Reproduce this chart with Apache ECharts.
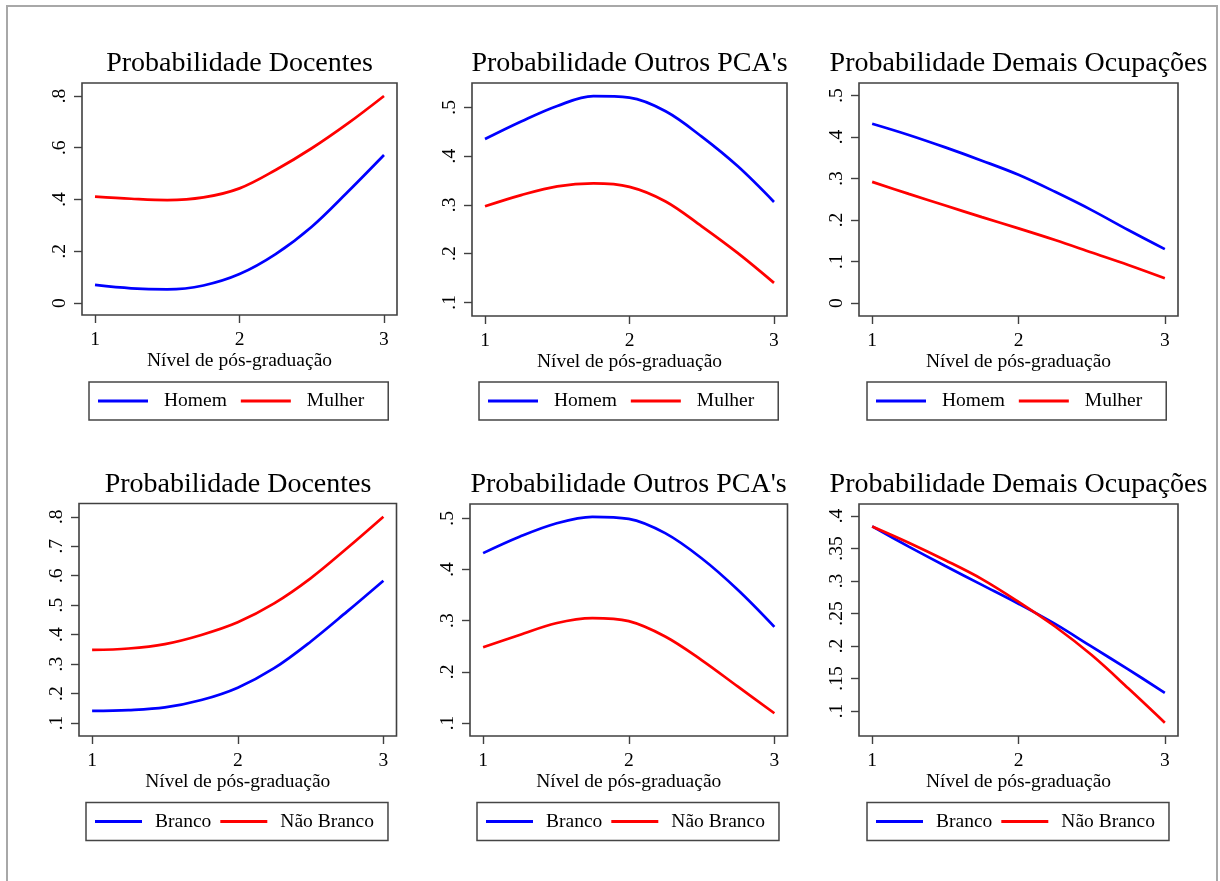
<!DOCTYPE html>
<html>
<head>
<meta charset="utf-8">
<script src="https://cdn.jsdelivr.net/npm/echarts@6/dist/echarts.min.js"></script>
<style>
html,body{margin:0;padding:0;background:#fff;}
#chart{width:1220px;height:881px;}
</style>
</head>
<body>
<div id="chart"></div>
<script>
// ---- data ----
const xValues = [1, 1.25, 1.5, 1.75, 2, 2.25, 2.5, 2.75, 3];
const xTicks = [1, 2, 3];
const xAxisName = 'Nível de pós-graduação';

const titles = ['Probabilidade Docentes', "Probabilidade Outros PCA's", 'Probabilidade Demais Ocupações',
                'Probabilidade Docentes', "Probabilidade Outros PCA's", 'Probabilidade Demais Ocupações'];
const sexNames = ['Homem', 'Mulher'];
const raceNames = ['Branco', 'Não Branco'];

const docHomem   = [0.070, 0.057, 0.053, 0.068, 0.112, 0.189, 0.295, 0.430, 0.572];
const docMulher  = [0.411, 0.403, 0.398, 0.408, 0.443, 0.514, 0.598, 0.694, 0.800];
const pcaHomem   = [0.435, 0.471, 0.503, 0.523, 0.520, 0.492, 0.440, 0.379, 0.306];
const pcaMulher  = [0.297, 0.320, 0.338, 0.344, 0.337, 0.307, 0.256, 0.201, 0.140];
const demHomem   = [0.432, 0.405, 0.375, 0.343, 0.309, 0.268, 0.224, 0.176, 0.130];
const demMulher  = [0.292, 0.263, 0.235, 0.207, 0.180, 0.152, 0.122, 0.092, 0.060];
const docBranco    = [0.141, 0.144, 0.153, 0.178, 0.220, 0.286, 0.376, 0.478, 0.583];
const docNaoBranco = [0.348, 0.353, 0.368, 0.399, 0.442, 0.506, 0.591, 0.693, 0.800];
const pcaBranco    = [0.432, 0.464, 0.490, 0.503, 0.499, 0.471, 0.422, 0.360, 0.288];
const pcaNaoBranco = [0.248, 0.272, 0.295, 0.305, 0.299, 0.269, 0.223, 0.171, 0.119];
const demBranco    = [0.384, 0.353, 0.323, 0.294, 0.265, 0.234, 0.199, 0.164, 0.128];
const demNaoBranco = [0.384, 0.359, 0.332, 0.303, 0.268, 0.230, 0.186, 0.135, 0.082];

const yTicks1 = [0, 0.2, 0.4, 0.6, 0.8];
const yTicks2 = [0.1, 0.2, 0.3, 0.4, 0.5];
const yTicks3 = [0, 0.1, 0.2, 0.3, 0.4, 0.5];
const yTicks4 = [0.1, 0.2, 0.3, 0.4, 0.5, 0.6, 0.7, 0.8];
const yTicks5 = [0.1, 0.2, 0.3, 0.4, 0.5];
const yTicks6 = [0.1, 0.15, 0.2, 0.25, 0.3, 0.35, 0.4];

// ---- layout (pixels) ----
const panels = [
  {names: sexNames,  data: [docHomem, docMulher],     yTicks: yTicks1, ymin: -0.046, ymax: 0.850,
   grid: {left: 82, top: 83, width: 315, height: 232}, titleX: 239.5, titleY: 64, legend: {left: 89, top: 382}},
  {names: sexNames,  data: [pcaHomem, pcaMulher],     yTicks: yTicks2, ymin: 0.072, ymax: 0.550,
   grid: {left: 472, top: 83, width: 315, height: 233}, titleX: 629.5, titleY: 64, legend: {left: 479, top: 382}},
  {names: sexNames,  data: [demHomem, demMulher],     yTicks: yTicks3, ymin: -0.031, ymax: 0.530,
   grid: {left: 859, top: 83, width: 319, height: 233}, titleX: 1018.5, titleY: 64, legend: {left: 867, top: 382}},
  {names: raceNames, data: [docBranco, docNaoBranco], yTicks: yTicks4, ymin: 0.056, ymax: 0.845,
   grid: {left: 79, top: 503.5, width: 317.5, height: 232.5}, titleX: 238, titleY: 484.5, legend: {left: 86, top: 802.5}},
  {names: raceNames, data: [pcaBranco, pcaNaoBranco], yTicks: yTicks5, ymin: 0.0746, ymax: 0.528,
   grid: {left: 470, top: 504, width: 317.5, height: 232}, titleX: 628.5, titleY: 484.5, legend: {left: 477, top: 802.5}},
  {names: raceNames, data: [demBranco, demNaoBranco], yTicks: yTicks6, ymin: 0.0615, ymax: 0.4185,
   grid: {left: 859, top: 504, width: 319, height: 232}, titleX: 1018.5, titleY: 484.5, legend: {left: 867, top: 802.5}}
];

const FONT = 'Liberation Serif';
const TXT = '#000000';
const AX = '#404040';
const colors = ['#0000FF', '#FF0000'];

function fmt(v) {
  if (Math.abs(v) < 1e-9) return '0';
  return String(+v.toFixed(2)).replace(/^0/, '');
}

const grids = [], xAxes = [], yAxes = [], series = [], legends = [], graphics = [];

graphics.push({type: 'rect', shape: {x: 7, y: 6, width: 1210, height: 900},
  style: {fill: 'none', stroke: '#a8a8a8', lineWidth: 2}, silent: true, z: -1});

panels.forEach((p, i) => {
  grids.push(Object.assign({show: true, borderColor: AX, borderWidth: 1.6, backgroundColor: '#fff', containLabel: false}, p.grid));
  xAxes.push({
    type: 'value', gridIndex: i, min: 0.91, max: 3.09, position: 'bottom',
    axisLine: {show: false, onZero: false},
    splitLine: {show: false},
    axisTick: {show: true, inside: false, customValues: xTicks, length: 8, lineStyle: {color: AX, width: 1.4}},
    axisLabel: {customValues: xTicks, margin: 15, color: TXT, fontFamily: FONT, fontSize: 19.5},
    name: xAxisName, nameLocation: 'middle', nameGap: 36,
    nameTextStyle: {color: TXT, fontFamily: FONT, fontSize: 19.5}
  });
  yAxes.push({
    type: 'value', gridIndex: i, min: p.ymin, max: p.ymax, position: 'left',
    axisLine: {show: false, onZero: false},
    splitLine: {show: false},
    axisTick: {show: true, inside: false, customValues: p.yTicks, length: 8, lineStyle: {color: AX, width: 1.4}},
    axisLabel: {customValues: p.yTicks, rotate: 90, margin: 12, color: TXT, fontFamily: FONT, fontSize: 19.5,
                formatter: v => fmt(v)}
  });
  p.names.forEach((nm, k) => {
    series.push({
      type: 'line', name: nm, xAxisIndex: i, yAxisIndex: i,
      data: xValues.map((x, j) => [x, p.data[k][j]]),
      showSymbol: false, symbol: 'none', smooth: 0.35,
      lineStyle: {color: colors[k], width: 2.7},
      itemStyle: {color: colors[k]},
      emphasis: {disabled: true}
    });
  });
  const isSex = p.names === sexNames;
  legends.push({
    data: p.names.map(n => ({name: n, icon: 'rect'})),
    left: p.legend.left, top: p.legend.top,
    orient: 'horizontal',
    itemWidth: isSex ? 50 : 47, itemHeight: 3,
    itemGap: isSex ? 14 : 9,
    padding: isSex ? [9, 24, 9, 9] : [9, 14, 9, 9],
    borderColor: '#454545', borderWidth: 1.5,
    backgroundColor: '#fff',
    selectedMode: false,
    textStyle: {color: TXT, fontFamily: FONT, fontSize: 19.5, padding: [0, 0, 0, isSex ? 11 : 8]}
  });
  graphics.push({type: 'text', x: p.titleX, y: p.titleY, silent: true,
    style: {text: titles[i], fill: TXT, font: '28px "' + FONT + '"', align: 'center', verticalAlign: 'middle'}});
});

const chart = echarts.init(document.getElementById('chart'), null, {renderer: 'canvas'});
chart.setOption({
  backgroundColor: '#fff',
  animation: false,
  grid: grids, xAxis: xAxes, yAxis: yAxes, series: series, legend: legends,
  graphic: graphics
});
</script>
</body>
</html>
